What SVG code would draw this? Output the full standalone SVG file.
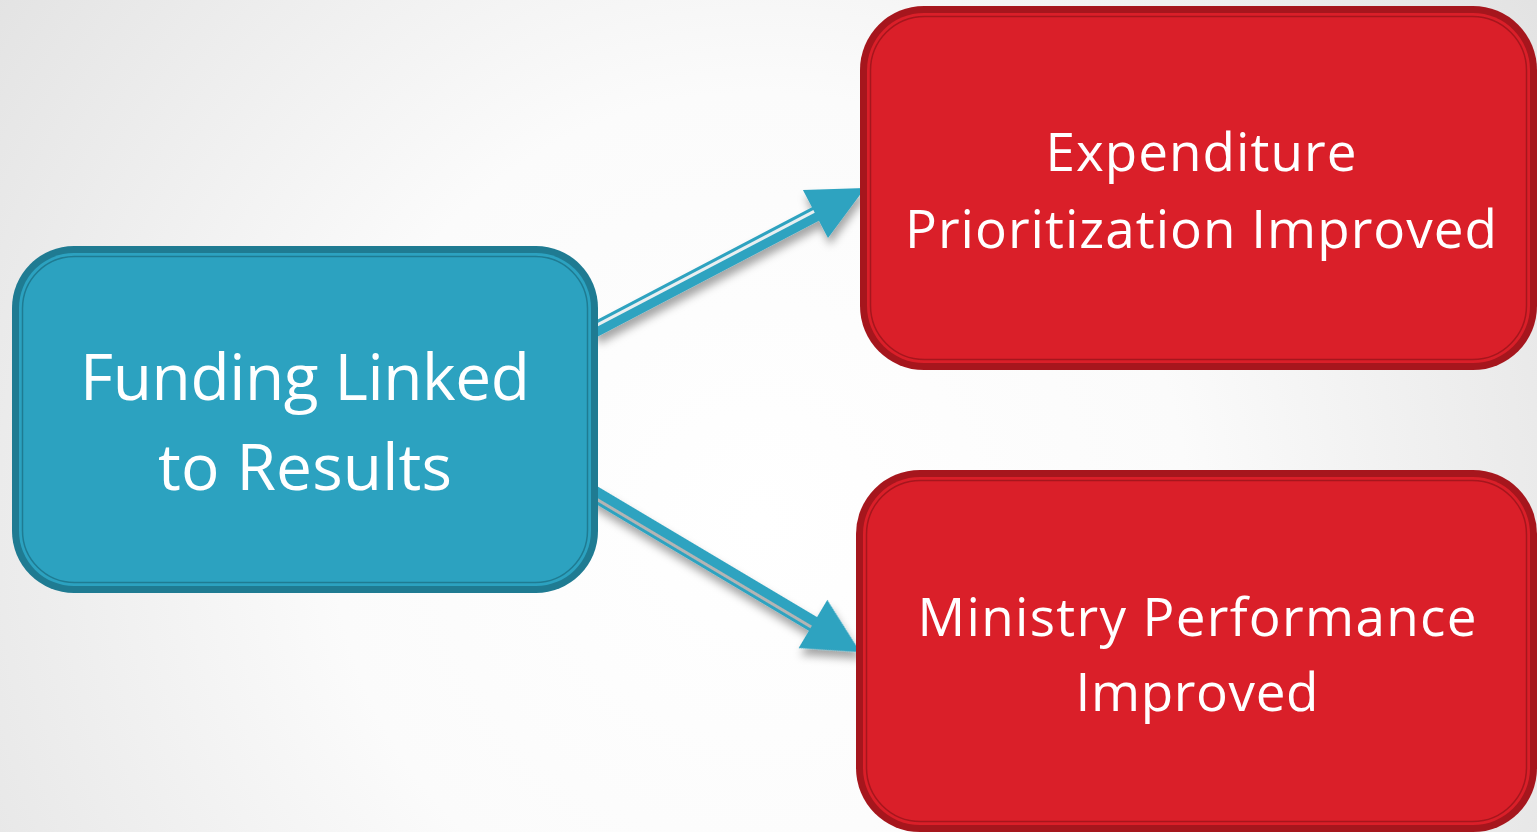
<svg xmlns="http://www.w3.org/2000/svg" width="1537" height="832" viewBox="0 0 1537 832">
  <defs>
    <radialGradient id="bg" cx="760" cy="520" r="950" gradientUnits="userSpaceOnUse">
      <stop offset="0" stop-color="#ffffff"/>
      <stop offset="0.45" stop-color="#fbfbfb"/>
      <stop offset="1" stop-color="#e2e2e2"/>
    </radialGradient>
    <filter id="shadow" x="-20%" y="-40%" width="140%" height="180%">
      <feDropShadow dx="2" dy="7" stdDeviation="4" flood-color="#000" flood-opacity="0.35"/>
    </filter>
  </defs>
  <style>
    .blue-rim { fill: #1f7b92; }
    .blue-face { fill: #2ca2c0; }
    .blue-line { fill: none; stroke: #1f7b92; stroke-width: 1.5; }
    .red-rim { fill: #a6161d; }
    .red-face { fill: #da1f29; }
    .red-line { fill: none; stroke: #a6161d; stroke-width: 1.5; }
    .label { fill: #ffffff; font-family: "Open Sans", "Noto Sans", sans-serif; text-anchor: middle; }
    .arrow { fill: #2ea3c0; }
  </style>

  <rect x="0" y="0" width="1537" height="832" fill="url(#bg)"/>

  <!-- connectors -->
  <g id="connectors" filter="url(#shadow)">
    <g transform="translate(594,330) rotate(-27.65)">
      <polygon class="arrow" points="0,-7.5 250,-7.5 250,-27 306,0 250,27 250,7.5 0,7.5"/>
      <rect x="0" y="-4.5" width="250" height="3" fill="#e9eff1"/>
    </g>
    <g transform="translate(593,493) rotate(30.77)">
      <polygon class="arrow" points="0,-8 256,-8 256,-28 311,0 256,28 256,8 0,8"/>
      <rect x="0" y="2" width="256" height="3" fill="#b4b4b4"/>
    </g>
  </g>

  <!-- source node -->
  <g id="funding">
    <rect class="blue-rim" x="12" y="246" width="586" height="347" rx="62"/>
    <rect class="blue-face" x="19" y="253" width="572" height="333" rx="55"/>
    <rect class="blue-line" x="22.5" y="256.5" width="565" height="326" rx="52"/>
    <text class="label" font-size="64" x="305" y="400" textLength="450" lengthAdjust="spacing">Funding Linked</text>
    <text class="label" font-size="64" x="305" y="490" textLength="294" lengthAdjust="spacing">to Results</text>
  </g>

  <!-- outcome nodes -->
  <g id="expenditure">
    <rect class="red-rim" x="860" y="6" width="677" height="364" rx="64"/>
    <rect class="red-face" x="867" y="13" width="663" height="350" rx="57"/>
    <rect class="red-line" x="870.5" y="16.5" width="656" height="343" rx="54"/>
    <text class="label" font-size="53" x="1201" y="171" textLength="311" lengthAdjust="spacing">Expenditure</text>
    <text class="label" font-size="53" x="1201" y="248" textLength="592" lengthAdjust="spacing">Prioritization Improved</text>
  </g>

  <g id="ministry">
    <rect class="red-rim" x="856" y="470" width="681" height="362" rx="64"/>
    <rect class="red-face" x="863" y="477" width="667" height="348" rx="57"/>
    <rect class="red-line" x="866.5" y="480.5" width="660" height="341" rx="54"/>
    <text class="label" font-size="53" x="1197" y="636" textLength="559" lengthAdjust="spacing">Ministry Performance</text>
    <text class="label" font-size="53" x="1197" y="711" textLength="243" lengthAdjust="spacing">Improved</text>
  </g>
</svg>
